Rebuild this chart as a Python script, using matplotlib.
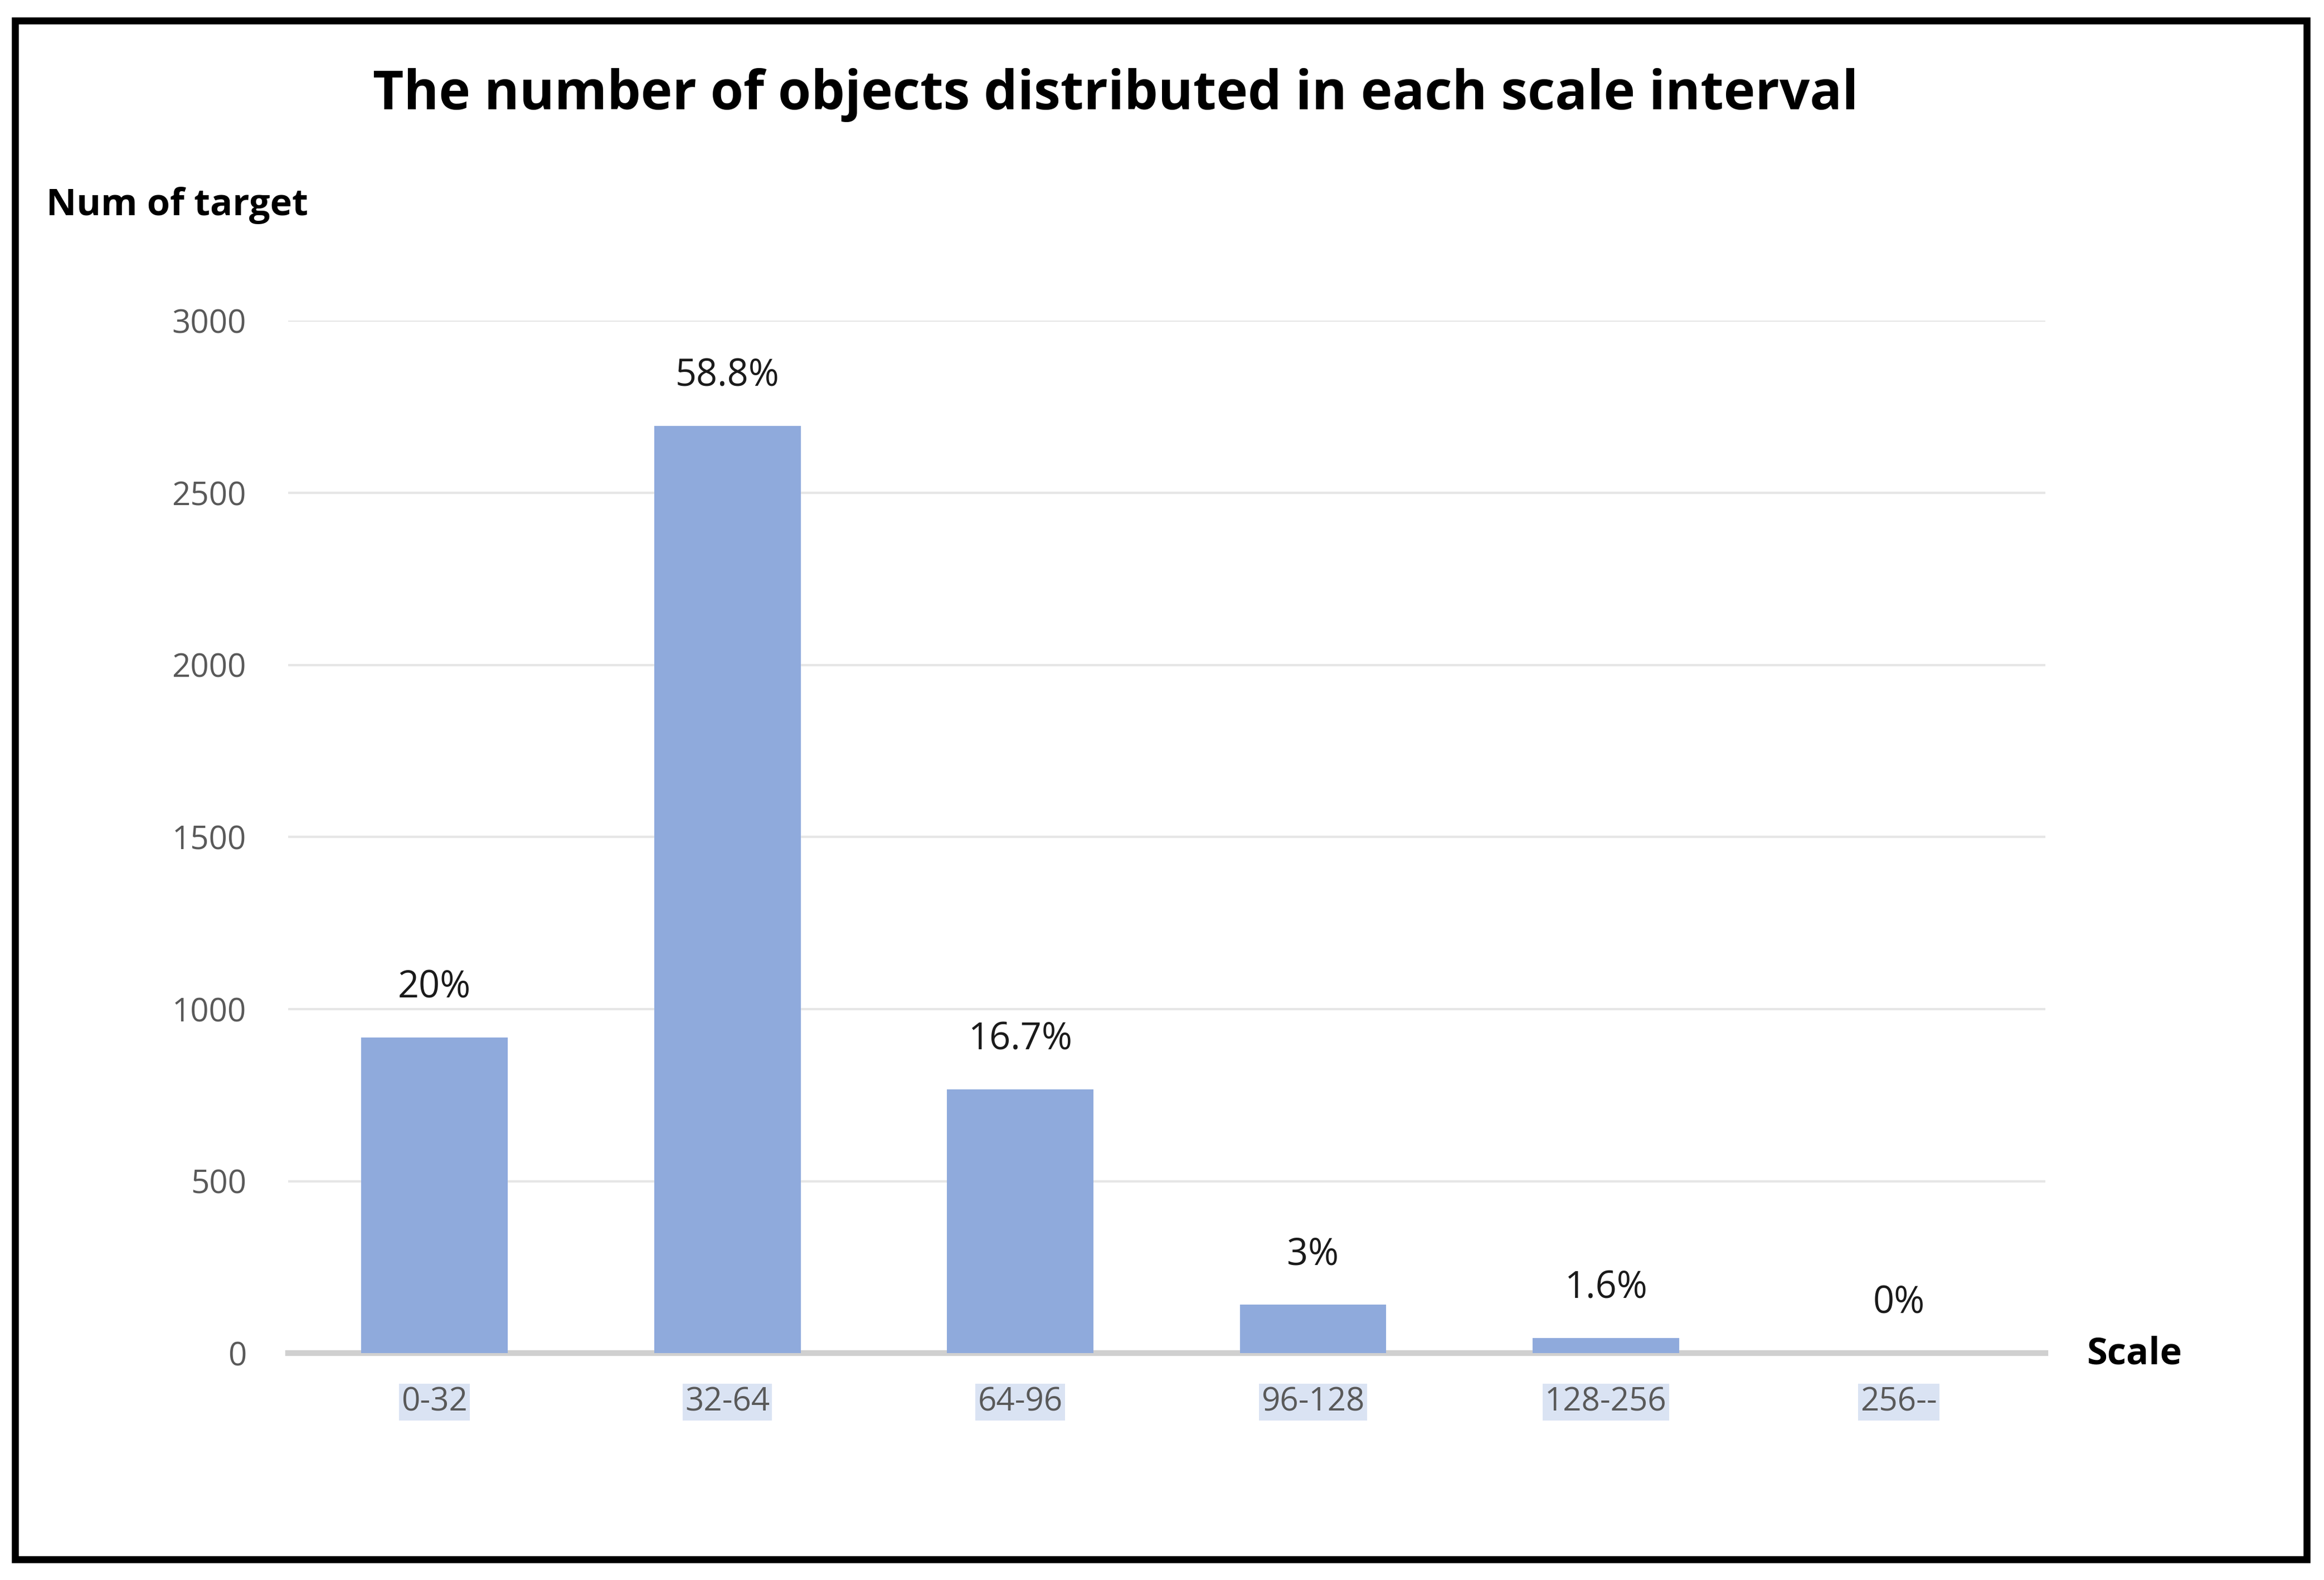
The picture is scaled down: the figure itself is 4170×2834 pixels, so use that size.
import matplotlib.pyplot as plt
import numpy as np
from matplotlib.patches import Rectangle

plt.rcParams['font.family'] = ['Open Sans', 'DejaVu Sans']

categories = ['0-32', '32-64', '64-96', '96-128', '128-256', '256--']
counts = [917, 2694, 766, 142, 45, 0]
percent_labels = ['20%', '58.8%', '16.7%', '3%', '1.6%', '0%']

fig = plt.figure(figsize=(13.9, 9.447), dpi=300)
ax = fig.add_axes([0.124, 0.1435, 0.756, 0.6535])

x = np.arange(len(categories))
bars = ax.bar(x, counts, 0.5, color='#8faadc', zorder=3)

for xi, c, lab in zip(x, counts, percent_labels):
    ax.text(xi, c + 90, lab, ha='center', va='bottom', fontsize=16, color='#1a1a1a')

ax.set_xlim(-0.5, len(categories) - 0.5)
ax.set_ylim(0, 3000)
ax.set_yticks(np.arange(0, 3001, 500))
ax.tick_params(axis='y', length=0, labelsize=14, labelcolor='#595959', pad=18)
ax.tick_params(axis='x', length=0, labelsize=14, labelcolor='#595959', pad=14)
ax.set_xticks(x)
ax.set_xticklabels(categories)
for t in ax.get_xticklabels():
    t.set_bbox(dict(facecolor='#dae3f3', edgecolor='none', pad=1))
ax.grid(axis='y', color='#e6e6e6', linewidth=1, zorder=0)
for s in ['top', 'right', 'left']:
    ax.spines[s].set_visible(False)
ax.spines['bottom'].set_color('#d0d0d0')
ax.spines['bottom'].set_linewidth(2.5)

fig.text(0.48, 0.94, 'The number of objects distributed in each scale interval',
         ha='center', va='center', fontsize=23, fontweight='bold')
fig.text(0.02, 0.87, 'Num of target', ha='left', va='center', fontsize=16, fontweight='bold')
fig.text(0.898, 0.143, 'Scale', ha='left', va='center', fontsize=16, fontweight='bold')

fig.patches.append(Rectangle((0.0065, 0.013), 0.986, 0.974, transform=fig.transFigure,
                             fill=False, edgecolor='black', linewidth=3))

fig.savefig('out.png', dpi=300, facecolor='white')
